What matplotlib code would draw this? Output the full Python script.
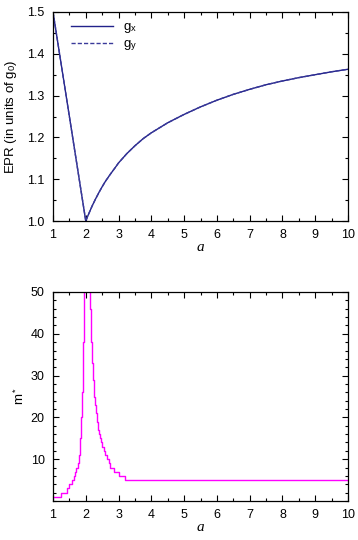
import matplotlib
matplotlib.use("Agg")
import matplotlib.pyplot as plt
from matplotlib.ticker import MultipleLocator

# --- data ---
# EPR g-factor curve (gx and gy coincide)
a_g = [1.0, 2.0, 2.05, 2.1, 2.2, 2.3, 2.4, 2.5, 2.6, 2.75, 2.9, 3.0, 3.25, 3.5, 3.75, 4.0,
       4.5, 5.0, 5.5, 6.0, 6.5, 7.0, 7.5, 8.0, 8.5, 9.0, 9.5, 10.0]
g_x = [1.5, 1.0, 1.010, 1.019, 1.037, 1.053, 1.068, 1.082, 1.095, 1.112, 1.128, 1.139, 1.161,
       1.180, 1.197, 1.211, 1.235, 1.255, 1.273, 1.289, 1.303, 1.315, 1.326, 1.335, 1.343,
       1.350, 1.357, 1.363]
g_y = [1.5, 1.0, 1.010, 1.019, 1.037, 1.053, 1.068, 1.082, 1.095, 1.112, 1.128, 1.139, 1.161,
       1.180, 1.197, 1.211, 1.235, 1.255, 1.273, 1.289, 1.303, 1.315, 1.326, 1.335, 1.343,
       1.350, 1.357, 1.363]

# m* step function: value m holds from a until the next a
a_m = [1.0, 1.25, 1.42, 1.50, 1.57, 1.63, 1.68, 1.715, 1.75, 1.78, 1.795, 1.81, 1.819, 1.829,
       1.837, 1.844, 1.850, 1.856, 1.861, 1.865, 1.871, 1.877, 1.883, 1.8875, 1.892, 1.896,
       1.900, 1.9036, 1.907, 1.910, 1.913, 1.916, 1.918, 1.921, 1.923, 1.925, 1.927, 1.929,
       1.931, 1.9325, 1.934, 1.936, 1.937, 1.9386, 1.940, 1.941, 1.9426, 1.944, 1.945, 1.946,
       1.95,
       2.12, 2.132, 2.135, 2.1375, 2.140, 2.1435, 2.1467, 2.150, 2.1535, 2.157, 2.161, 2.165,
       2.169, 2.174, 2.178, 2.183, 2.189, 2.194, 2.200, 2.206, 2.213, 2.220, 2.228, 2.236,
       2.244, 2.254, 2.264, 2.275, 2.287, 2.300, 2.314, 2.330, 2.347, 2.367, 2.388, 2.412,
       2.44, 2.471, 2.508, 2.55, 2.59, 2.64, 2.70, 2.75, 2.86, 3.00, 3.20, 10.0]
m_star = [1, 2, 3, 4, 5, 6, 7, 8, 9, 10, 11, 12, 13, 14,
          15, 16, 17, 18, 19, 20, 21, 22, 23, 24, 25, 26,
          27, 28, 29, 30, 31, 32, 33, 34, 35, 36, 37, 38,
          39, 40, 41, 42, 43, 44, 45, 46, 47, 48, 49, 50,
          60,
          60, 50, 49, 48, 47, 46, 45, 44, 43, 42, 41, 40,
          39, 38, 37, 36, 35, 34, 33, 32, 31, 30, 29, 28,
          27, 26, 25, 24, 23, 22, 21, 20, 19, 18, 17, 16,
          15, 14, 13, 12, 11, 10, 9, 8, 7, 6, 5, 5]

x_ticks = [1, 2, 3, 4, 5, 6, 7, 8, 9, 10]
g_ticks = [1.0, 1.1, 1.2, 1.3, 1.4, 1.5]
m_ticks = [10, 20, 30, 40, 50]

plt.rcParams['font.family'] = ['Liberation Sans', 'DejaVu Sans']
plt.rcParams['mathtext.fontset'] = 'custom'
plt.rcParams['mathtext.rm'] = 'Liberation Sans'
plt.rcParams['mathtext.it'] = 'Liberation Serif:italic'

fig = plt.figure(figsize=(3.58, 5.40), dpi=100)
ax1 = fig.add_axes([53/358, 1-221/540, 295/358, 209/540])
ax2 = fig.add_axes([53/358, 1-501/540, 295/358, 209/540])

navy = '#22228a'
ax1.plot(a_g, g_x, color=navy, lw=1.0, label=r'g$_\mathrm{x}$')
ax1.plot(a_g, g_y, color='#3a3a9a', lw=1.0, ls=(0, (3, 1.5)), label=r'g$_\mathrm{y}$')
ax1.set_xlim(1, 10)
ax1.set_ylim(1.0, 1.5)
ax1.set_xticks(x_ticks)
ax1.set_yticks(g_ticks)
ax1.set_yticklabels([f'{v:.1f}' for v in g_ticks])
ax1.xaxis.set_minor_locator(MultipleLocator(0.5))
ax1.yaxis.set_minor_locator(MultipleLocator(0.05))
ax1.set_xlabel('a', fontfamily='Liberation Serif', fontstyle='italic', fontsize=11, labelpad=0)
ax1.set_ylabel(r'EPR (in units of g$_\mathrm{0}$)', fontsize=9.5, labelpad=6)
leg = ax1.legend(loc='upper left', frameon=False, fontsize=9.5, handlelength=3.2,
                 bbox_to_anchor=(0.03, 1.0), borderaxespad=0.3, labelspacing=0.2,
                 handletextpad=0.7)

ax2.plot(a_m, m_star, color='#ff00ff', lw=1.0, drawstyle='steps-post')
ax2.set_xlim(1, 10)
ax2.set_ylim(0, 50)
ax2.set_xticks(x_ticks)
ax2.set_yticks(m_ticks)
ax2.xaxis.set_minor_locator(MultipleLocator(0.5))
ax2.yaxis.set_minor_locator(MultipleLocator(2))
ax2.set_xlabel('a', fontfamily='Liberation Serif', fontstyle='italic', fontsize=11, labelpad=0)
ax2.set_ylabel(r'm$^*$', fontsize=9.5, labelpad=3)

for ax in (ax1, ax2):
    ax.tick_params(which='both', direction='in', top=True, right=True, labelsize=9, pad=6)
    ax.tick_params(which='major', length=4, width=0.8)
    ax.tick_params(which='minor', length=2, width=0.8)
    for s in ax.spines.values():
        s.set_linewidth(0.9)

fig.savefig('out.png', dpi=100)
